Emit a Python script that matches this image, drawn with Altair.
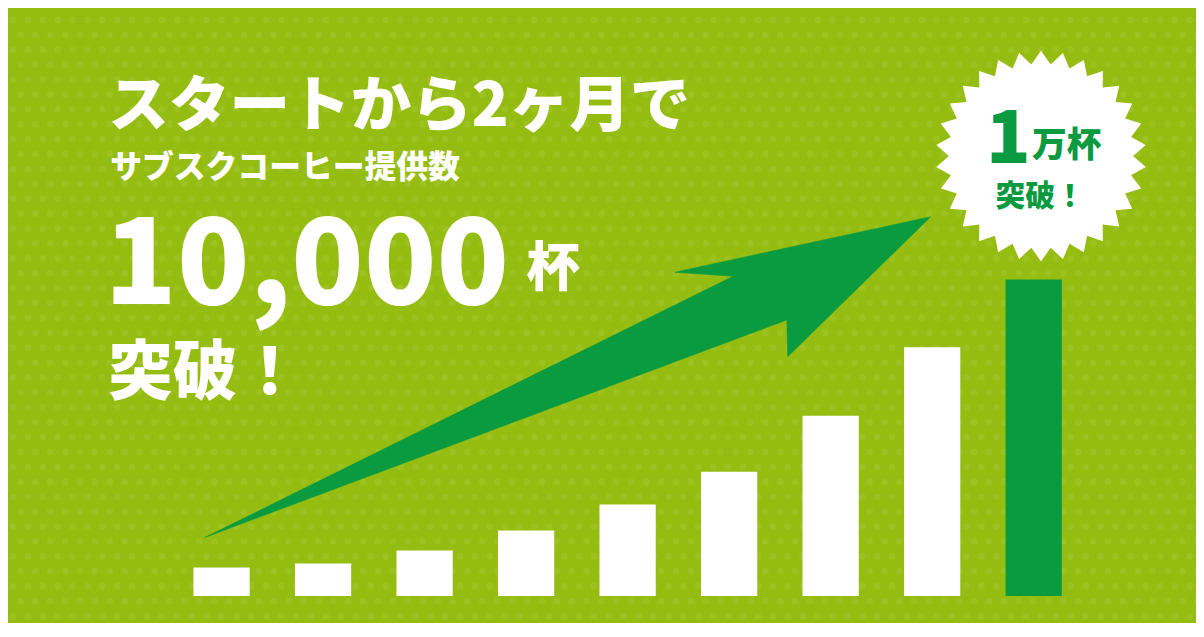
import altair as alt
import pandas as pd
import numpy as np

# ---------------- data ----------------
months = [1, 2, 3, 4, 5, 6, 7, 8, 9]                     # bar index (time steps)
cups = [900, 1030, 1440, 2070, 2890, 3930, 5700, 7860, 10000]
kind = ["past"] * 8 + ["now"]

# arrow outline (x in bar-index units, y in cups)
arrow_x = [0.834, 6.568, 6.577, 7.986, 5.462, 6.039, 0.834]
arrow_y = [1851, 8723, 7562, 11986, 10229, 10104, 1851]

# badge centre (x in bar-index units, y in cups)
badge_x = [9.072]
badge_y = [13900]

BG = "#95bd11"
DARK = "#0a9a40"
FONT = "Noto Sans CJK JP"

W, H = 1196, 615
PX_PER_IDX = 102.2
PX_PER_CUP = 0.03187
X_DOM = [1 - 215 / PX_PER_IDX, 1 + (W - 215) / PX_PER_IDX]
Y_DOM = [-(H - 590) / PX_PER_CUP, 590 / PX_PER_CUP]
xs = alt.Scale(domain=X_DOM, nice=False, zero=False)
ys = alt.Scale(domain=Y_DOM, nice=False, zero=False)

# background dot texture (decorative lattice)
gx = np.arange(X_DOM[0] + 5 / PX_PER_IDX, X_DOM[1], 15 / PX_PER_IDX)
gy = np.arange(Y_DOM[0] + 5 / PX_PER_CUP, Y_DOM[1], 15 / PX_PER_CUP)
dots = []
for j, yv in enumerate(gy):
    off = (7.5 / PX_PER_IDX) if j % 2 else 0.0
    for xv in gx:
        dots.append((xv + off, yv))
dots_df = pd.DataFrame(dots, columns=["x", "y"])

bars_df = pd.DataFrame({"month": months, "cups": cups, "kind": kind})
arrow_df = pd.DataFrame({"x": arrow_x, "y": arrow_y, "i": range(len(arrow_x))})
badge_df = pd.DataFrame({"x": badge_x, "y": badge_y})

# starburst path in unit coordinates
n = 30
pts = []
for k in range(2 * n):
    r = 1.0 if k % 2 == 0 else 0.875
    a = -np.pi / 2 + k * np.pi / n
    pts.append(f"{r*np.cos(a):.4f},{r*np.sin(a):.4f}")
star_path = "M" + " L".join(pts) + " Z"

dots_layer = alt.Chart(dots_df).mark_point(
    shape="circle", filled=True, color="#ffffff", opacity=0.07, size=45, clip=True
).encode(x=alt.X("x:Q", scale=xs, axis=None), y=alt.Y("y:Q", scale=ys, axis=None))

bars_layer = alt.Chart(bars_df).transform_calculate(
    x0="datum.month - 0.277", x1="datum.month + 0.277", base="0"
).mark_rect().encode(
    x=alt.X("x0:Q", scale=xs, axis=None),
    x2="x1:Q",
    y=alt.Y("base:Q", scale=ys, axis=None),
    y2="cups:Q",
    color=alt.Color("kind:N", scale=alt.Scale(domain=["past", "now"], range=["#ffffff", DARK]), legend=None),
)

arrow_layer = alt.Chart(arrow_df).mark_line(
    fill=DARK, stroke=DARK, strokeWidth=0.5
).encode(
    x=alt.X("x:Q", scale=xs, axis=None),
    y=alt.Y("y:Q", scale=ys, axis=None),
    order="i:Q",
)

badge_layer = alt.Chart(badge_df).mark_point(
    shape=star_path, filled=True, color="#ffffff", opacity=1, size=212 * 212
).encode(x=alt.X("x:Q", scale=xs, axis=None), y=alt.Y("y:Q", scale=ys, axis=None))

one = pd.DataFrame({"a": [0]})


def label(text, x, y, size, color="#ffffff", align="left", baseline="middle"):
    return alt.Chart(one).mark_text(
        text=text, font=FONT, fontWeight=900, fontSize=size, color=color,
        align=align, baseline=baseline,
    ).encode(x=alt.value(x), y=alt.value(y))


texts = [
    label("スタートから2ヶ月で", 101, 99, 61),
    label("サブスクコーヒー提供数", 103, 159, 32),
    label("10,000", 97, 296, 120, baseline="alphabetic"),
    label("杯", 522, 262, 54),
    label("突破！", 101, 367, 65),
    label("1", 1007, 154, 74, color=DARK, align="center", baseline="alphabetic"),
    label("万杯", 1066, 137, 35, color=DARK, align="center"),
    label("突破！", 1039, 188, 30, color=DARK, align="center"),
]

chart = alt.layer(dots_layer, bars_layer, arrow_layer, badge_layer, *texts).properties(
    width=W, height=H,
    autosize=alt.AutoSizeParams(type="none"),
    padding=0,
    background=BG,
).configure_view(stroke=None)

chart.save("out.html", embed_options={"renderer": "svg", "actions": False})
